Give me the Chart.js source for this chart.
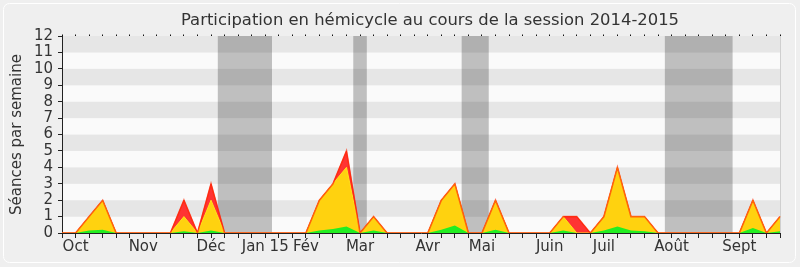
<!DOCTYPE html>
<html>
<head>
<meta charset="utf-8">
<script src="https://cdn.jsdelivr.net/npm/chart.js@4.4.1/dist/chart.umd.min.js"></script>
<style>
  html, body { margin: 0; padding: 0; background: #efefef; }
  #wrap { width: 800px; height: 267px; position: relative; }
</style>
</head>
<body>
<div id="wrap"><canvas id="c" width="800" height="267"></canvas></div>
<script>
// Semaines de la session (une catégorie par semaine), libellés de mois sur l'axe
const etiquettes = [
  '', 'Oct', '', '', '', '', 'Nov', '', '', '', '', 'Déc', '', '', '',
  'Jan 15', '', '', 'Fév', '', '', '', 'Mar', '', '', '', '', 'Avr', '', '',
  '', 'Mai', '', '', '', '', 'Juin', '', '', '', 'Juil', '', '', '', '',
  'Août', '', '', '', '', 'Sept', '', '', ''
];

// Séances par semaine
const presences = [
  0, 0, 1, 2, 0, 0, 0, 0, 0, 2, 0, 3, 0, 0, 0, 0, 0, 0, 0, 2, 3, 5, 0, 1, 0, 0, 0,
  0, 2, 3, 0, 0, 2, 0, 0, 0, 0, 1, 1, 0, 1, 4, 1, 1, 0, 0, 0, 0, 0, 0, 0, 2, 0, 1
];
const participations = [
  0, 0, 1, 2, 0, 0, 0, 0, 0, 1, 0, 2, 0, 0, 0, 0, 0, 0, 0, 2, 3, 4, 0, 1, 0, 0, 0,
  0, 2, 3, 0, 0, 2, 0, 0, 0, 0, 1, 0, 0, 1, 4, 1, 1, 0, 0, 0, 0, 0, 0, 0, 2, 0, 1
];
const interventions = [
  0, 0, 0.15, 0.2, 0, 0, 0, 0, 0, 0.1, 0, 0.15, 0, 0, 0, 0, 0, 0, 0, 0.15, 0.25, 0.4, 0, 0.15, 0, 0, 0,
  0, 0.2, 0.45, 0, 0, 0.2, 0, 0, 0, 0, 0.15, 0, 0, 0.15, 0.4, 0.15, 0.1, 0, 0, 0, 0, 0, 0, 0, 0.3, 0, 0.1
];

// Périodes de vacances parlementaires (en semaines)
const vacances = [
  [11.5, 15.5],
  [21.5, 22.5],
  [29.5, 31.5],
  [44.5, 49.5]
];

const titre = 'Participation en hémicycle au cours de la session 2014-2015';
const FONT = '"DejaVu Sans", sans-serif';
Chart.defaults.font.family = FONT;

const fondPlugin = {
  id: 'fond',
  beforeDraw(chart) {
    const { ctx, chartArea: a, scales } = chart;
    const W = chart.width, H = chart.height;
    ctx.save();
    ctx.fillStyle = '#efefef';
    ctx.fillRect(0, 0, W, H);
    // cadre arrondi
    ctx.strokeStyle = '#ffffff';
    ctx.lineWidth = 1;
    ctx.beginPath();
    ctx.roundRect(3.5, 3.5, W - 8, H - 8, 6);
    ctx.stroke();
    // bandes horizontales alternées
    const y = scales.y;
    for (let v = 0; v < 12; v++) {
      const top = y.getPixelForValue(v + 1), bot = y.getPixelForValue(v);
      ctx.fillStyle = (v % 2 === 1) ? '#e6e6e6' : '#fafafa';
      ctx.fillRect(a.left, top, a.right - a.left, bot - top);
    }
    // vacances
    const x = scales.x;
    ctx.fillStyle = 'rgba(0,0,0,0.235)';
    vacances.forEach(([d, f]) => {
      const x0 = x.getPixelForValue(d), x1 = x.getPixelForValue(f);
      ctx.fillRect(x0, a.top, x1 - x0, a.bottom - a.top);
    });
    // bord droit
    ctx.strokeStyle = '#cfcfcf';
    ctx.beginPath();
    ctx.moveTo(a.right + 0.5, a.top);
    ctx.lineTo(a.right + 0.5, a.bottom);
    ctx.stroke();
    // titre
    ctx.fillStyle = '#333';
    ctx.font = '16.4px ' + FONT;
    ctx.textAlign = 'center';
    ctx.textBaseline = 'alphabetic';
    ctx.fillText(titre, 430, 25);
    ctx.restore();
  }
};

new Chart(document.getElementById('c'), {
  type: 'line',
  data: {
    labels: etiquettes,
    datasets: [
      {
        label: 'Présences',
        data: presences,
        order: 4,
        fill: 'origin',
        backgroundColor: '#ff3333',
        borderColor: '#ff2a2a',
        borderWidth: 1,
        pointRadius: 0,
        tension: 0
      },
      {
        label: 'Participations',
        data: participations,
        order: 3,
        fill: 'origin',
        backgroundColor: '#ffd20f',
        borderColor: '#ffe21a',
        borderWidth: 1,
        pointRadius: 0,
        tension: 0
      },
      {
        label: 'Interventions',
        data: interventions,
        order: 2,
        fill: 'origin',
        backgroundColor: '#22ee22',
        borderColor: '#22ee22',
        borderWidth: 0,
        pointRadius: 0,
        tension: 0
      },
      {
        label: 'Contour',
        data: presences,
        order: 1,
        fill: false,
        borderColor: 'rgba(255,40,0,0.65)',
        borderWidth: 1.6,
        pointRadius: 0,
        tension: 0
      }
    ]
  },
  options: {
    responsive: false,
    animation: false,
    events: [],
    layout: { padding: { left: 0, right: 20, top: 36, bottom: 0 } },
    plugins: {
      legend: { display: false },
      title: { display: false },
      tooltip: { enabled: false }
    },
    scales: {
      x: {
        type: 'category',
        offset: false,
        grid: { drawOnChartArea: false, drawTicks: true, tickLength: 5, color: '#222', offset: false },
        border: { display: true, color: '#222', width: 1 },
        ticks: {
          autoSkip: false, maxRotation: 0, minRotation: 0,
          color: '#333', font: { size: 15 }, padding: 0
        },
        afterFit(s) { s.height = 34; }
      },
      xHaut: {
        type: 'category',
        position: 'top',
        offset: false,
        grid: { drawOnChartArea: false, drawTicks: true, tickLength: 1.5, color: '#111', offset: false },
        border: { display: false },
        ticks: { display: false, autoSkip: false },
        afterFit(s) { s.height = 0; }
      },
      y: {
        min: 0, max: 12,
        grid: { drawOnChartArea: false, drawTicks: true, tickLength: 4, color: '#222' },
        border: { display: true, color: '#222', width: 1 },
        ticks: { stepSize: 1, autoSkip: false, color: '#333', font: { size: 15 }, padding: 5 },
        title: {
          display: true, text: 'Séances par semaine', color: '#333',
          font: { size: 15 }, padding: { top: 8, bottom: 0 }
        },
        afterFit(s) { s.width = 62; }
      }
    }
  },
  plugins: [fondPlugin]
});
</script>
</body>
</html>
